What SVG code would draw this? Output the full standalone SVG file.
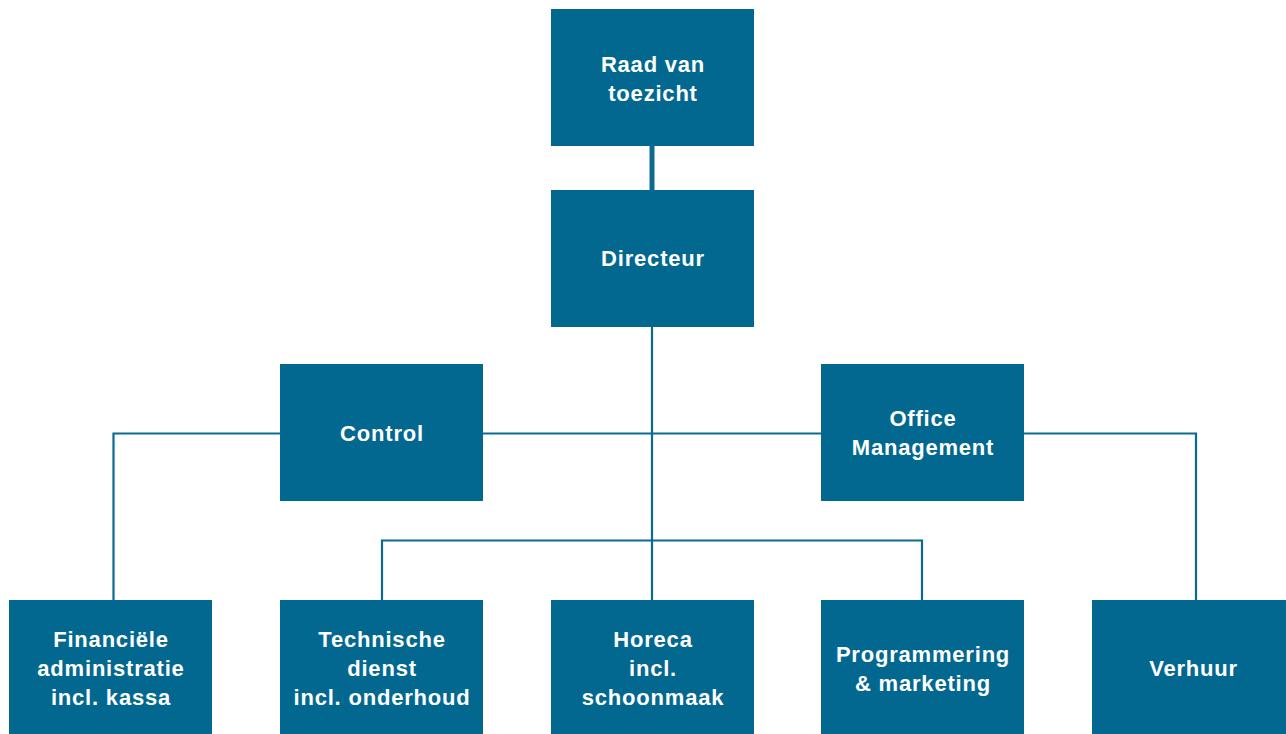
<svg xmlns="http://www.w3.org/2000/svg" width="1286" height="734" viewBox="0 0 1286 734">
  <style>
    .box { fill: #02688f; }
    .lbl { fill: #ffffff; font-family: "Liberation Sans", Arial, sans-serif; font-weight: bold; font-size: 22px; letter-spacing: 0.8px; text-anchor: middle; }
    .ln { fill: none; stroke: #0a6a90; stroke-width: 2.2; }
  </style>
  <rect width="1286" height="734" fill="#ffffff"/>

  <g id="connectors">
    <line class="ln" x1="652" y1="145" x2="652" y2="191" style="stroke-width:5"/>
    <line class="ln" x1="652" y1="326" x2="652" y2="600"/>
    <line class="ln" x1="482" y1="433.5" x2="821" y2="433.5"/>
    <polyline class="ln" points="280,433.5 113.5,433.5 113.5,600"/>
    <polyline class="ln" points="1023,433.5 1196,433.5 1196,600"/>
    <polyline class="ln" points="382,600 382,540.5 922,540.5 922,600"/>
  </g>

  <g id="raad">
    <rect class="box" x="551" y="9" width="203" height="137"/>
    <text class="lbl" x="653" y="72">Raad van</text>
    <text class="lbl" x="653" y="101">toezicht</text>
  </g>
  <g id="directeur">
    <rect class="box" x="551" y="190" width="203" height="137"/>
    <text class="lbl" x="653" y="266">Directeur</text>
  </g>
  <g id="control">
    <rect class="box" x="280" y="364" width="203" height="137"/>
    <text class="lbl" x="382" y="441">Control</text>
  </g>
  <g id="office">
    <rect class="box" x="821" y="364" width="203" height="137"/>
    <text class="lbl" x="923" y="426">Office</text>
    <text class="lbl" x="923" y="455">Management</text>
  </g>
  <g id="financien">
    <rect class="box" x="9" y="600" width="203" height="134"/>
    <text class="lbl" x="111" y="647">Financiële</text>
    <text class="lbl" x="111" y="676">administratie</text>
    <text class="lbl" x="111" y="705">incl. kassa</text>
  </g>
  <g id="techniek">
    <rect class="box" x="280" y="600" width="203" height="134"/>
    <text class="lbl" x="382" y="647">Technische</text>
    <text class="lbl" x="382" y="676">dienst</text>
    <text class="lbl" x="382" y="705">incl. onderhoud</text>
  </g>
  <g id="horeca">
    <rect class="box" x="551" y="600" width="203" height="134"/>
    <text class="lbl" x="653" y="647">Horeca</text>
    <text class="lbl" x="653" y="676">incl.</text>
    <text class="lbl" x="653" y="705">schoonmaak</text>
  </g>
  <g id="programmering">
    <rect class="box" x="821" y="600" width="203" height="134"/>
    <text class="lbl" x="923" y="662">Programmering</text>
    <text class="lbl" x="923" y="691">&amp; marketing</text>
  </g>
  <g id="verhuur">
    <rect class="box" x="1092" y="600" width="194" height="134"/>
    <text class="lbl" x="1193.5" y="676">Verhuur</text>
  </g>
</svg>
